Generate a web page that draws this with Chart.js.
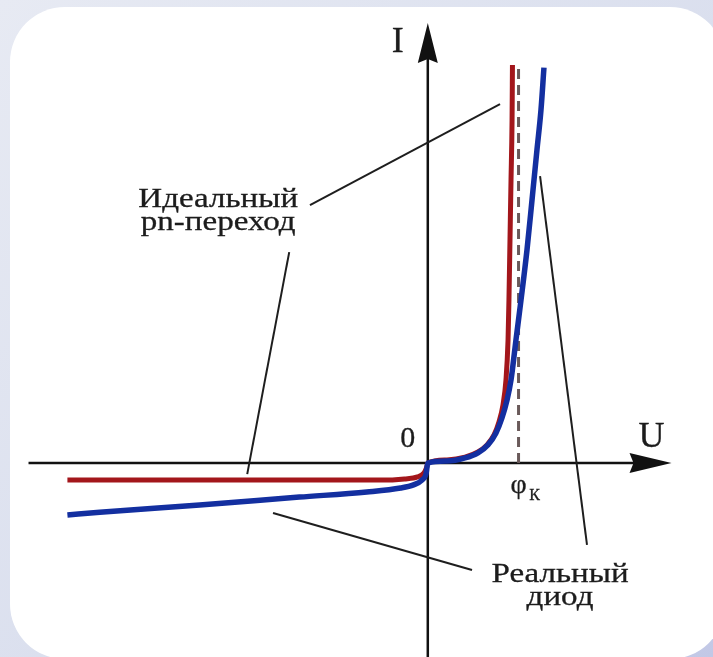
<!DOCTYPE html>
<html>
<head>
<meta charset="utf-8">
<script src="https://cdn.jsdelivr.net/npm/chart.js@4.4.1/dist/chart.umd.min.js"></script>
<style>
  html, body { margin: 0; padding: 0; }
  body {
    width: 713px; height: 657px; overflow: hidden; position: relative;
    background: linear-gradient(135deg, #e7eaf3 0%, #dadfee 55%, #c2c8e6 100%);
  }
  .card {
    position: absolute; left: 10px; top: 7px; width: 715px; height: 652px;
    border-radius: 55px; background: #fff;
  }
  canvas { position: absolute; left: 0; top: 0; }
</style>
</head>
<body>
<div class="card"></div>
<canvas id="vac" width="713" height="657"></canvas>
<script>
// ВАХ: идеальный pn-переход и реальный диод
const phiK = 0.7;

// Идеальный pn-переход (U, I)
const uIdeal = [-2.78, -1.76, -0.99, -0.37, -0.18, -0.08, -0.03, -0.01, 0,
                0.148, 0.287, 0.387, 0.457, 0.511, 0.549, 0.580, 0.603, 0.619, 0.626, 0.634, 0.642, 0.650, 0.653];
const iIdeal = [-0.43, -0.43, -0.43, -0.43, -0.40, -0.35, -0.25, -0.12, 0,
                0.08, 0.15, 0.28, 0.46, 0.71, 1.04, 1.47, 2.10, 3.11, 4.12, 5.64, 7.16, 8.67, 10.06];

// Реальный диод (U, I)
const uReal = [-2.78, -2.53, -1.76, -0.99, -0.47, -0.21, -0.11, -0.045, -0.014, 0,
               0.148, 0.287, 0.387, 0.464, 0.526, 0.572, 0.611, 0.642, 0.680, 0.719, 0.765, 0.804, 0.842, 0.873, 0.896];
const iReal = [-1.31, -1.24, -1.06, -0.86, -0.73, -0.63, -0.55, -0.43, -0.28, 0,
               0.05, 0.13, 0.26, 0.46, 0.76, 1.14, 1.59, 2.10, 3.11, 4.12, 5.38, 6.65, 7.91, 8.92, 9.99];

// extents of the drawn axes and of the φк marker
const uAxis = [-3.08, 1.88];
const iAxis = [-4.9, 11.12];
const iDash = [0, 10];

// leader lines from the captions: [u0, i0, u1, i1]
const leaderIdealA = [-0.909, 6.52, 0.557, 9.07];
const leaderIdealB = [-1.069, 5.33, -1.393, -0.28];
const leaderRealA = [-1.194, -1.26, 0.341, -2.70];
const leaderRealB = [0.866, 7.25, 1.228, -2.07];

// caption anchors (U, I)
const captionIdeal = { u: -1.617, i: 6.47, lines: ['Идеальный', 'pn-переход'] };
const captionReal = { u: 1.02, i: -3.0, lines: ['Реальный', 'диод'] };

const toPoints = (us, is) => us.map((u, k) => ({ x: u, y: is[k] }));
const leader = l => ({
  data: [{ x: l[0], y: l[1] }, { x: l[2], y: l[3] }],
  borderColor: '#1e1e1e', borderWidth: 2, pointRadius: 0, showLine: true, order: 3
});

const textColor = '#1c1c1c';

function stretchedText(ctx, str, cx, base, sx) {
  ctx.save();
  ctx.translate(cx, base);
  ctx.scale(sx, 1);
  ctx.textAlign = 'center';
  ctx.strokeText(str, 0, 0);
  ctx.fillText(str, 0, 0);
  ctx.restore();
}

const axesPlugin = {
  id: 'axes',
  beforeDatasetsDraw(chart) {
    const { ctx, scales: { x, y } } = chart;
    const x0 = x.getPixelForValue(0), y0 = y.getPixelForValue(0);
    const xL = x.getPixelForValue(uAxis[0]), xR = x.getPixelForValue(uAxis[1]);
    const yB = y.getPixelForValue(iAxis[0]), yT = y.getPixelForValue(iAxis[1]);
    ctx.save();
    ctx.strokeStyle = '#111';
    ctx.fillStyle = '#111';
    ctx.lineWidth = 2.5;
    ctx.beginPath();
    ctx.moveTo(xL, y0); ctx.lineTo(xR - 30, y0);
    ctx.moveTo(x0, yB); ctx.lineTo(x0, yT + 30);
    ctx.stroke();
    // arrowheads
    ctx.beginPath();
    ctx.moveTo(xR, y0);
    ctx.lineTo(xR - 42, y0 - 10);
    ctx.lineTo(xR - 38, y0);
    ctx.lineTo(xR - 42, y0 + 10);
    ctx.closePath();
    ctx.fill();
    ctx.beginPath();
    ctx.moveTo(x0, yT);
    ctx.lineTo(x0 - 10, yT + 40);
    ctx.lineTo(x0, yT + 36);
    ctx.lineTo(x0 + 10, yT + 40);
    ctx.closePath();
    ctx.fill();
    ctx.restore();
  },
  afterDatasetsDraw(chart) {
    const { ctx, scales: { x, y } } = chart;
    const x0 = x.getPixelForValue(0), y0 = y.getPixelForValue(0);
    const xR = x.getPixelForValue(uAxis[1]);
    const yT = y.getPixelForValue(iAxis[1]);
    const xPhi = x.getPixelForValue(phiK);
    ctx.save();
    ctx.fillStyle = textColor;
    ctx.strokeStyle = textColor;
    ctx.lineWidth = 0.3;
    ctx.textBaseline = 'alphabetic';

    ctx.font = '36px "Liberation Serif", "Times New Roman", serif';
    stretchedText(ctx, 'U', xR - 20, y0 - 16, 1);
    stretchedText(ctx, 'I', x0 - 30, yT + 29, 1);

    ctx.font = '30px "Liberation Serif", "Times New Roman", serif';
    stretchedText(ctx, '0', x0 - 20, y0 - 16, 1);

    ctx.font = '28px "Liberation Serif", "Times New Roman", serif';
    stretchedText(ctx, 'φ', xPhi, y0 + 30, 1);
    ctx.font = '16px "Liberation Serif", "Times New Roman", serif';
    stretchedText(ctx, 'К', xPhi + 16, y0 + 37, 1);

    ctx.font = '28px "Liberation Serif", "Times New Roman", serif';
    [captionIdeal, captionReal].forEach(c => {
      const cx = x.getPixelForValue(c.u), by = y.getPixelForValue(c.i);
      c.lines.forEach((line, k) => stretchedText(ctx, line, cx, by + k * 23, 1.18));
    });
    ctx.restore();
  }
};

new Chart(document.getElementById('vac'), {
  type: 'scatter',
  data: {
    datasets: [
      {
        label: 'Реальный диод',
        data: toPoints(uReal, iReal),
        showLine: true, borderColor: '#132fa0', borderWidth: 5.5,
        pointRadius: 0, cubicInterpolationMode: 'monotone', order: 0
      },
      {
        label: 'Идеальный pn-переход',
        data: toPoints(uIdeal, iIdeal),
        showLine: true, borderColor: '#a3161b', borderWidth: 5,
        pointRadius: 0, cubicInterpolationMode: 'monotone', order: 1
      },
      {
        label: 'φк',
        data: [{ x: phiK, y: iDash[0] }, { x: phiK, y: iDash[1] }],
        showLine: true, borderColor: '#6a5a5a', borderWidth: 3,
        borderDash: [10, 6], pointRadius: 0, order: 2
      },
      leader(leaderIdealA),
      leader(leaderIdealB),
      leader(leaderRealA),
      leader(leaderRealB)
    ]
  },
  options: {
    responsive: false,
    animation: false,
    layout: { padding: 0 },
    plugins: { legend: { display: false }, tooltip: { enabled: false } },
    scales: {
      x: { type: 'linear', min: -3.3, max: 2.2, display: false },
      y: { type: 'linear', min: -4.9, max: 11.7, display: false }
    }
  },
  plugins: [axesPlugin]
});
</script>
</body>
</html>
